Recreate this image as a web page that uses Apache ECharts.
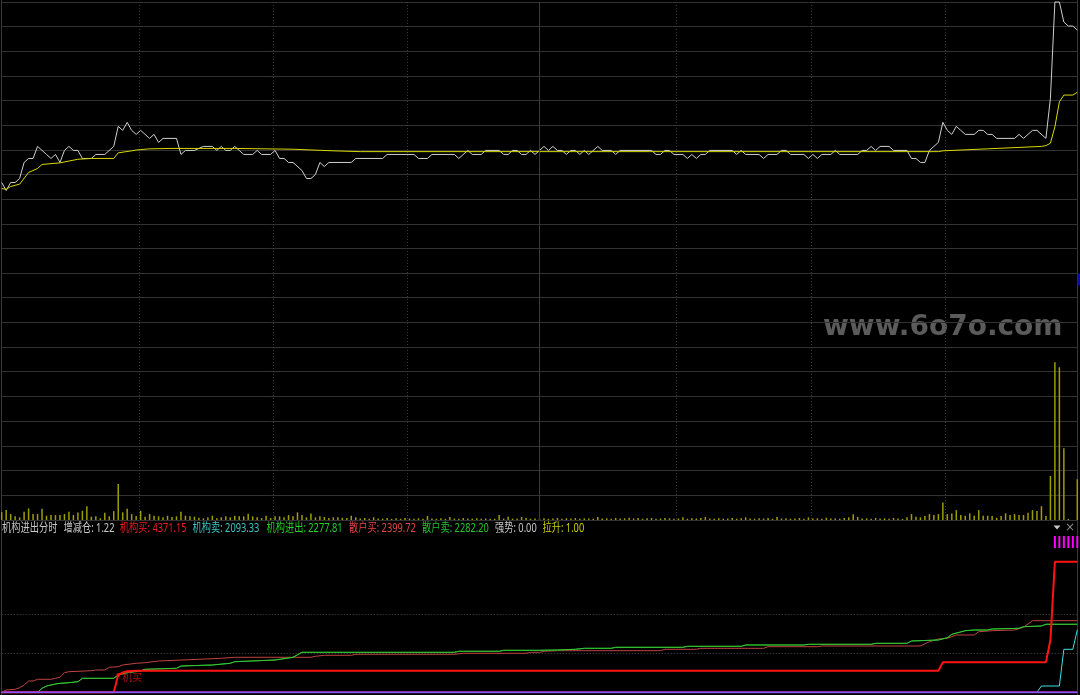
<!DOCTYPE html>
<html><head><meta charset="utf-8">
<script src="https://cdn.jsdelivr.net/npm/echarts@6/dist/echarts.min.js"></script>
<style>html,body{margin:0;padding:0;background:#000;}#c{width:1080px;height:695px;}</style>
</head><body><div id="c"></div>
<script>
// ---------------- DATA ----------------
const prevClose = 6.17;
const dayHigh = 6.60;
// [minute, price]
const pricePoints = [[0,6.15],[1,6.13],[2,6.15],[3,6.15],[4,6.16],[5,6.20],[6,6.21],[7,6.21],[8,6.24],[9,6.23],[10,6.22],[11,6.21],[12,6.22],[13,6.20],[14,6.23],[15,6.24],[16,6.23],[17,6.23],[18,6.21],[20,6.21],[21,6.22],[23,6.22],[25,6.24],[26,6.29],[27,6.28],[28,6.30],[29,6.28],[30,6.27],[31,6.28],[33,6.26],[34,6.27],[35,6.25],[36,6.26],[39,6.26],[40,6.22],[41,6.23],[43,6.23],[45,6.24],[47,6.24],[48,6.23],[49,6.24],[50,6.23],[51,6.23],[52,6.24],[53,6.23],[54,6.22],[56,6.22],[57,6.23],[58,6.22],[60,6.22],[61,6.23],[62,6.21],[63,6.21],[64,6.20],[65,6.20],[67,6.18],[68,6.16],[69,6.16],[70,6.17],[71,6.20],[72,6.19],[73,6.20],[78,6.20],[79,6.21],[85,6.21],[86,6.22],[92,6.22],[93,6.21],[95,6.21],[96,6.22],[101,6.22],[102,6.21],[104,6.23],[105,6.22],[107,6.22],[108,6.23],[111,6.23],[112,6.22],[113,6.22],[114,6.23],[115,6.23],[116,6.22],[117,6.22],[118,6.23],[119,6.22],[120,6.23],[121,6.24],[122,6.23],[123,6.24],[124,6.23],[125,6.23],[126,6.22],[127,6.23],[128,6.23],[129,6.22],[130,6.23],[131,6.22],[133,6.24],[134,6.23],[136,6.23],[137,6.22],[138,6.23],[145,6.23],[146,6.22],[147,6.22],[148,6.23],[149,6.23],[150,6.22],[152,6.22],[153,6.21],[154,6.22],[155,6.21],[156,6.22],[157,6.22],[158,6.23],[163,6.23],[164,6.22],[165,6.23],[166,6.22],[169,6.22],[170,6.21],[171,6.22],[173,6.22],[174,6.23],[175,6.23],[176,6.22],[179,6.22],[180,6.21],[181,6.22],[182,6.21],[183,6.22],[185,6.22],[186,6.23],[187,6.22],[191,6.22],[192,6.23],[193,6.23],[194,6.24],[195,6.23],[196,6.24],[198,6.24],[199,6.23],[202,6.23],[203,6.21],[204,6.21],[205,6.20],[206,6.20],[207,6.23],[208,6.24],[209,6.25],[210,6.30],[211,6.28],[212,6.27],[213,6.29],[214,6.28],[215,6.27],[217,6.27],[218,6.28],[219,6.28],[220,6.27],[221,6.27],[222,6.26],[226,6.26],[227,6.27],[228,6.26],[229,6.27],[230,6.28],[231,6.28],[233,6.26],[234,6.36],[235,6.60],[236,6.60],[237,6.55],[238,6.54],[239,6.54],[240,6.53]];
// [minute, average price]
const avgPoints = [[0,6.135],[1,6.133],[2,6.140],[4,6.146],[6,6.175],[8,6.185],[9,6.195],[13,6.199],[17,6.208],[20,6.210],[25,6.210],[26,6.224],[29,6.229],[30,6.231],[33,6.234],[38,6.235],[52,6.235],[65,6.233],[74,6.229],[80,6.227],[209,6.227],[210,6.229],[220,6.234],[232,6.240],[233,6.242],[234,6.248],[235,6.289],[236,6.351],[237,6.368],[239,6.368],[240,6.375]];
// volume per minute (0..240), lots
const volumes = [
800,1000,600,370,270,830,1170,600,600,1130,
430,500,500,500,600,830,500,770,930,1400,
330,370,170,730,370,900,3640,770,1130,600,
400,930,330,600,430,370,270,430,300,370,
830,430,370,330,230,170,270,430,170,270,
370,270,430,370,370,630,370,270,200,430,
200,370,370,270,500,370,770,500,270,670,
270,370,300,200,270,270,230,200,430,270,
150,200,130,270,150,130,200,120,170,130,
200,150,130,170,130,400,150,130,170,120,
300,150,130,200,150,130,170,120,150,130,
120,500,150,330,130,150,300,200,130,150,
130,170,120,150,200,130,170,150,200,130,
170,150,130,300,150,170,130,200,150,170,
230,150,200,130,170,200,130,150,200,170,
130,150,270,130,170,150,200,300,150,130,
170,130,150,200,130,170,270,150,130,170,
150,200,130,300,150,170,130,150,200,130,
270,150,170,130,230,150,170,130,200,270,
570,300,150,170,130,200,150,170,130,200,
150,100,270,600,330,270,400,600,500,600,
1770,600,670,1000,500,430,670,430,1000,430,
430,400,230,400,670,500,600,500,500,730,
1000,900,1400,400,4450,15950,15450,7250,100,0,
4120];
// indicator lines [minute, value]
const instBuy = [[0,0],[25,0],[26,580],[27,663],[28,703],[30,720],[32,724],[209,724],[210,1005],[233,1005],[234,1752],[235,4371.15],[240,4371.15]];
const instSell = [[0,0],[231,0],[232,211],[236,211],[237,1440],[239,1440],[240,2093.33]];
const instNet = [[0,0],[8,0],[9,134],[10,211],[12,278],[13,301],[15,322],[17,355],[18,469],[25,469],[26,580],[28,657],[31,714],[32,771],[39,804],[40,881],[47,915],[51,972],[52,1025],[61,1082],[63,1126],[65,1173],[67,1340],[101,1340],[102,1374],[111,1374],[112,1407],[120,1407],[124,1417],[128,1441],[130,1474],[136,1474],[137,1508],[152,1508],[153,1541],[165,1541],[166,1585],[179,1585],[180,1608],[194,1608],[195,1641],[202,1641],[203,1719],[209,1752],[211,1829],[212,1943],[215,2064],[217,2087],[220,2087],[221,2121],[227,2144],[228,2198],[232,2221],[233,2278],[240,2277.81]];
const retailSell = [[0,0],[8,0],[9,134],[10,211],[12,278],[13,301],[15,322],[17,355],[18,469],[25,469],[26,580],[28,657],[31,714],[32,771],[39,804],[40,881],[47,915],[51,972],[52,1025],[61,1082],[63,1126],[65,1173],[67,1340],[101,1340],[102,1374],[111,1374],[112,1407],[120,1407],[124,1417],[128,1441],[130,1474],[136,1474],[137,1508],[152,1508],[153,1541],[165,1541],[166,1585],[179,1585],[180,1608],[194,1608],[195,1641],[202,1641],[203,1719],[209,1752],[211,1829],[212,1943],[215,2064],[217,2087],[220,2087],[221,2121],[227,2144],[228,2198],[232,2221],[233,2282],[240,2282.20]];
const retailBuy = [[0,0],[1,77],[3,100],[4,154],[5,245],[6,379],[7,379],[8,436],[11,436],[12,469],[13,503],[14,657],[15,690],[20,724],[21,747],[23,747],[24,838],[26,858],[27,915],[30,972],[32,992],[35,1049],[44,1106],[49,1139],[52,1173],[69,1173],[70,1206],[72,1240],[78,1240],[79,1273],[101,1273],[103,1307],[117,1307],[118,1340],[120,1340],[121,1374],[124,1394],[147,1394],[148,1441],[155,1441],[156,1474],[170,1474],[171,1528],[182,1528],[183,1551],[205,1551],[207,1695],[209,1786],[211,1809],[213,1920],[217,1920],[218,2030],[221,2064],[226,2087],[228,2178],[230,2399.72],[240,2399.72]];
const strength = [[0,0],[240,0]];
const liftMinutes = [235,236,237,238,239,240];
const liftLine = [[0,0],[234,0],[235,1],[240,1]];
const buySignal = [[26,580]];
// header legend
const headerNames = ['机构进出分时','增减仓','机构买','机构卖','机构进出','散户买','散户卖','强势','拉升'];
const headerValues = [null,1.22,4371.15,2093.33,2277.81,2399.72,2282.20,0.00,1.00];

// ---------------- CHART ----------------
const chart = echarts.init(document.getElementById('c'), null, {renderer:'canvas'});
const GL = 1.7, GR = 2.7;
const hid = (o) => Object.assign({axisLine:{show:false}, axisTick:{show:false}, axisLabel:{show:false}, splitLine:{show:false}}, o);
const DOT = 'rgba(0,0,0,0)';
const vc = '#3a3a3a';
const STICK_LOW = 4834, STICK_HIGH = 5236;

const headerX = [2,63.5,119.8,192.5,266.5,349,422,495,542.5];
const headerColors = ['#c8c8c8','#c8c8c8','#f01c1c','#3ec4c4','#26d226','#e04646','#22c42a','#c8c8c8','#d0d000'];
const headerGraphics = headerNames.map((n,k)=>({
  type:'text', x: headerX[k], y: 529, scaleX: 0.77, silent:true,
  style:{ text: headerValues[k]===null ? n : (n + ': ' + headerValues[k].toFixed(2)),
          fill: headerColors[k], font: '12px "Noto Sans", "Noto Sans CJK SC"', textVerticalAlign:'middle' }
}));

const lineS = (name, data, color, width, z) => ({
  name, type:'line', xAxisIndex:2, yAxisIndex:3, data, symbol:'none', z: z||2,
  lineStyle:{color, width: width||1}, animation:false, clip:false
});

const option = {
  backgroundColor:'#000',
  animation:false,
  grid:[
    {left:GL, right:GR, top:2, height:345},
    {left:GL, right:GR, top:347, height:173},
    {left:GL, right:GR, top:537.1, height:155.2},
    {left:4.3, width:1077.6, top:2, height:518}
  ],
  xAxis:[
    hid({type:'value', gridIndex:0, min:0, max:240}),
    hid({type:'value', gridIndex:1, min:0, max:240}),
    hid({type:'value', gridIndex:2, min:0, max:240}),
    hid({type:'value', gridIndex:3, min:0, max:8, interval:1,
      splitLine:{show:true, showMinLine:false, showMaxLine:false,
        lineStyle:{color:[vc,vc,vc,DOT,vc,vc,vc], width:1, type:[1,2]}}})
  ],
  yAxis:[
    hid({type:'value', gridIndex:0, min: +(2*prevClose - dayHigh).toFixed(2), max: dayHigh}),
    hid({type:'value', gridIndex:0, min:-7, max:7, interval:1,
      splitLine:{show:true, lineStyle:{color:'#323232', width:1}}}),
    hid({type:'value', gridIndex:1, min:0, max:17500, interval:2500,
      splitLine:{show:true, lineStyle:{color:'#323232', width:1}}}),
    hid({type:'value', gridIndex:2, min:0, max:5200, interval:1300,
      splitLine:{show:true, showMinLine:false, showMaxLine:false,
        lineStyle:{color:['#4a4a4a','#4a4a4a',DOT], width:1, type:[1,2]}}}),
    hid({type:'value', gridIndex:3, min:0, max:1})
  ],
  series:[
    {name:'价格', type:'line', xAxisIndex:0, yAxisIndex:0, data:pricePoints, symbol:'none',
     lineStyle:{color:'#cfcfcf', width:1}, clip:false, z:3,
     markLine:{silent:true, symbol:'none', label:{show:false}, lineStyle:{color:'#3a3a3a', type:'solid', width:1}, data:[{xAxis:120}]}},
    {name:'均价', type:'line', xAxisIndex:0, yAxisIndex:0, data:avgPoints, symbol:'none',
     lineStyle:{color:'#d8d800', width:1}, clip:false, z:4},
    {name:'成交量', type:'bar', xAxisIndex:1, yAxisIndex:2, barWidth:1.5,
     data: volumes.map((v,i)=>[i,v]), itemStyle:{color:'#9d9d00'}, z:3,
     markLine:{silent:true, symbol:'none', label:{show:false}, lineStyle:{color:'#3a3a3a', type:'solid', width:1}, data:[{xAxis:120}]}},
    lineS('散户买', retailBuy, '#c04242', 1, 2),
    lineS('散户卖', retailSell, '#1f9a1f', 1, 2),
    lineS('机构进出', instNet, '#36c836', 1, 3),
    lineS('机构卖', instSell, '#3ee0e0', 1, 4),
    lineS('机构买', instBuy, '#ff1414', 2, 5),
    lineS('拉升线', liftLine, '#b020c0', 2, 6),
    lineS('强势', strength, '#6e6eff', 1, 7),
    {name:'拉升', type:'custom', xAxisIndex:2, yAxisIndex:3, clip:false, z:8,
     data: liftMinutes.map(m=>[m]),
     renderItem:(params, api)=>{
       const top = api.coord([api.value(0), STICK_HIGH]);
       const bot = api.coord([api.value(0), STICK_LOW]);
       return {type:'rect', shape:{x:top[0]-1, y:top[1], width:2, height:bot[1]-top[1]}, style:{fill:'#ff00ff'}};
     }},
    {name:'机买', type:'scatter', xAxisIndex:2, yAxisIndex:3, data:buySignal, symbol:'circle', symbolSize:4, z:9,
     itemStyle:{color:'#ff1414'},
     label:{show:true, formatter:'机买', position:'right', distance:2, offset:[0,2], color:'#e01010', fontSize:10, fontFamily:'"Noto Sans CJK SC"'}}
  ],
  graphic:[
    {type:'line', silent:true, shape:{x1:1.5,y1:0,x2:1.5,y2:695}, style:{stroke:'#3a3a3a', lineWidth:1}},
    {type:'line', silent:true, shape:{x1:1077.5,y1:0,x2:1077.5,y2:695}, style:{stroke:'#3a3a3a', lineWidth:1}},
    {type:'text', silent:true, x:823, y:327.5, style:{text:'www.6o7o.com', fill:'#5b5b5b', font:'bold 28px "DejaVu Sans"', textVerticalAlign:'middle'}},
    {type:'rect', silent:true, shape:{x:1077.5, y:273.5, width:3, height:12}, style:{fill:'#0c0ca8'}},
    {type:'polygon', silent:true, shape:{points:[[1053.5,525.5],[1060.5,525.5],[1057,529.5]]}, style:{fill:'#c8c8c8'}},
    {type:'text', silent:true, x:1070, y:528, style:{text:'×', fill:'#8a8a8a', font:'12px "DejaVu Sans"', textAlign:'center', textVerticalAlign:'middle'}}
  ].concat(headerGraphics)
};
chart.setOption(option);
</script>
</body></html>
